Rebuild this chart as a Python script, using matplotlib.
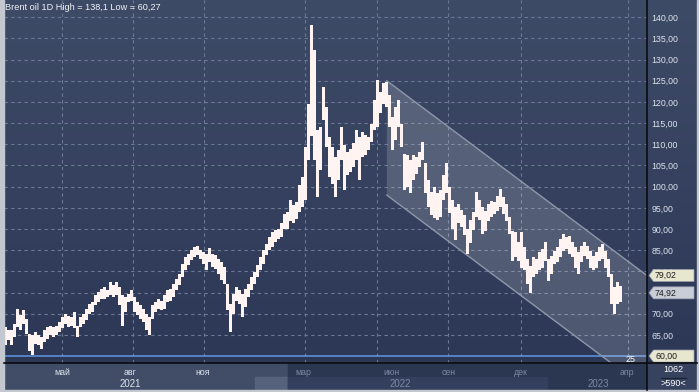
import numpy as np
import matplotlib
matplotlib.use('Agg')
from matplotlib import pyplot as plt
from matplotlib.colors import LinearSegmentedColormap
from matplotlib.patches import Polygon, Rectangle

plt.rcParams['font.family'] = ['Liberation Sans', 'DejaVu Sans']

# Brent daily range, one entry per ~2.5 trading days, mar 2021 .. mar 2023
high = [
    66.9, 66.1, 66.1, 67.6, 71.0, 69.6, 70.8, 68.8, 65.3, 64.9,
    65.7, 64.9, 64.5, 66.1, 66.9, 67.2, 66.9, 67.2, 68.0, 69.2,
    70.0, 69.4, 69.1, 70.4, 67.2, 69.1, 70.0, 71.2, 72.2, 72.8,
    74.3, 75.1, 75.9, 76.3, 75.5, 77.5, 76.7, 77.5, 76.3, 74.3,
    73.9, 74.7, 75.5, 73.9, 72.8, 72.0, 71.2, 70.0, 69.2, 72.0,
    72.8, 73.5, 73.1, 74.3, 75.5,
    75.9, 77.1, 78.3, 79.4, 81.8, 83.4, 84.2, 85.0, 85.7, 86.1,
    85.0, 84.6, 84.2, 85.4, 84.2, 83.8, 83.0, 82.2, 81.0, 77.1,
    72.4, 74.7, 76.3, 75.5, 74.7, 75.9, 77.1, 78.7, 79.8, 81.4,
    83.4, 85.0, 86.5, 88.1, 89.3, 89.7, 90.1, 91.3, 93.6, 94.0,
    96.8, 95.6, 96.4, 100.3, 102.3, 109.4, 119.6, 138.1, 132.2, 113.3,
    114.1, 123.5,
    118.9, 111.8, 109.4, 107.0, 108.6, 114.1, 109.8, 108.2, 109.0, 110.2,
    113.3, 111.8, 113.0, 112.2, 111.8, 114.9, 120.4, 125.2, 122.4, 124.4,
    124.8, 121.6, 116.5, 118.9, 120.4, 114.9, 107.8, 107.4, 106.3, 107.4,
    107.0, 108.2, 110.6, 105.5, 101.5, 98.8, 100.0, 98.4, 99.2, 102.7,
    105.5, 100.0, 96.8, 95.2, 96.0, 94.4, 93.3, 90.1, 92.1, 94.1,
    98.8, 96.8,
    95.1, 94.3, 95.9, 96.7, 96.3, 97.9, 99.4, 97.5, 95.9, 92.8,
    89.6, 89.2, 86.9, 89.2, 85.7, 82.9, 81.3, 83.3, 82.9, 84.5,
    85.3, 86.9, 82.9, 83.7, 84.9, 85.7, 87.6, 88.8, 88.0, 88.4,
    86.9, 85.7, 84.5, 86.1, 86.9, 86.1, 84.9, 83.7, 84.5, 85.7,
    86.5, 84.9, 82.9, 79.4, 76.2, 77.4, 76.6,
]
low = [
    62.5, 63.7, 62.5, 64.5, 66.9, 66.1, 67.6, 65.3, 61.3, 60.27,
    62.9, 62.5, 61.7, 63.3, 64.1, 64.9, 64.5, 64.9, 65.7, 66.5,
    67.6, 66.9, 67.2, 66.5, 64.5, 66.9, 67.6, 68.4, 70.0, 70.4,
    72.0, 72.8, 73.5, 73.5, 73.9, 74.3, 73.9, 74.3, 72.0, 67.2,
    70.4, 72.8, 73.1, 70.4, 69.6, 68.8, 68.0, 66.1, 64.9, 68.8,
    70.4, 71.2, 70.8, 71.2, 72.8,
    73.1, 73.9, 75.5, 76.7, 78.7, 80.2, 81.4, 82.6, 83.4, 83.8,
    83.0, 81.8, 80.2, 82.2, 81.0, 80.6, 79.4, 77.9, 77.1, 70.8,
    65.7, 70.0, 73.1, 72.4, 69.2, 71.6, 73.9, 75.5, 77.1, 78.7,
    80.2, 81.8, 83.8, 85.0, 85.7, 86.9, 87.7, 88.1, 90.1, 90.1,
    92.0, 91.3, 92.4, 94.0, 95.2, 96.8, 106.2, 112.0, 106.2, 97.6,
    103.9, 115.7,
    109.4, 102.3, 100.7, 97.6, 101.5, 106.3, 99.2, 102.7, 103.5, 104.7,
    106.3, 101.5, 107.0, 107.4, 108.6, 110.6, 113.3, 114.1, 117.3, 119.6,
    118.9, 114.1, 108.6, 111.0, 114.1, 109.4, 99.2, 100.0, 98.4, 101.5,
    103.1, 104.7, 106.3, 98.4, 95.2, 93.3, 92.5, 92.1, 92.9, 96.8,
    98.4, 93.7, 90.1, 87.4, 91.3, 90.5, 88.6, 84.2, 86.6, 89.7,
    92.9, 92.1,
    88.8, 89.6, 92.0, 92.8, 93.5, 94.3, 95.1, 93.5, 92.0, 88.8,
    82.5, 83.3, 82.5, 80.9, 80.2, 77.0, 75.0, 78.6, 79.4, 80.2,
    80.9, 82.5, 77.8, 79.4, 81.7, 82.1, 83.3, 84.9, 85.3, 84.1,
    83.3, 80.9, 79.4, 82.1, 83.7, 82.9, 80.9, 80.2, 80.9, 82.5,
    82.9, 80.9, 78.6, 72.3, 69.9, 72.3, 72.7,
]

month_labels = ['май', 'авг', 'ноя', 'мар', 'июн', 'сен', 'дек', 'апр']
month_label_pos = [18.8, 41.5, 65.8, 99.3, 128.7, 147.6, 171.8, 207.1]
month_grid_pos = [18.8, 42.5, 66.2, 99.8, 123.8, 147.5, 171.8, 207.5]
year_labels = ['2021', '2022', '2023']
year_pos = [41.5, 131.5, 197.5]
selected_end = 94.2  # end of the highlighted part of the time scroller

price_grid = list(range(65, 145, 5))
price_labels = [p for p in price_grid if p != 75]  # 75 sits under the last-price tag
channel_x = [127.1, 213.8]
channel_top = [125.0, 79.02]
channel_depth = 27.0
last_price = 74.92
low_level = 60.00
bars_count = 1062
bars_visible = 590
days_left = 25

light_txt = '#dde3ec'
dim_txt = '#7c89a4'


def fmt(v: float) -> str:
    return f'{v:.2f}'.replace('.', ',')


fig = plt.figure(figsize=(6.99, 3.92), dpi=100)

bg = fig.add_axes([0, 0, 1, 1])
bg.set_xlim(0, 699)
bg.set_ylim(0, 392)
bg.axis('off')
cmap = LinearSegmentedColormap.from_list('bg', ['#2b3654', '#3e4b67'])
bg.imshow(np.linspace(0, 1, 256)[:, None], cmap=cmap, aspect='auto',
          extent=(0, 699, 0, 392), origin='lower', zorder=0)
# time scroller band under the chart
bg.add_patch(Rectangle((4, 2), 284, 27, color='#414d67', zorder=1))
bg.add_patch(Rectangle((255, 2), 33, 13, color='#56627b', zorder=1))
bg.add_patch(Rectangle((288, 2), 359, 27, color='#2b3651', zorder=1))
bg.add_patch(Rectangle((288, 2), 259, 13, color='#333f5c', zorder=1))
bg.add_patch(Rectangle((647, 2), 50, 27, color='#36425e', zorder=1))

ax = fig.add_axes([4 / 699, 29 / 392, 643 / 699, 363 / 392])
ax.patch.set_alpha(0)
for s in ax.spines.values():
    s.set_visible(False)
ax.set_xlim(-0.5, 213.83)
ax.set_ylim(58.35, 144.08)

for p in price_grid:
    ax.axhline(p, color='#6b7995', lw=0.8, dashes=(3, 3), zorder=1)
for m in month_grid_pos:
    ax.axvline(m, color='#6b7995', lw=0.8, dashes=(3, 3), zorder=1)
ax.axhline(low_level, color='#5c8fd6', lw=1.2, zorder=2)

# descending channel
cx = np.array(channel_x)
ctop = np.array(channel_top)
cbot = ctop - channel_depth
ax.add_patch(Polygon(np.column_stack([np.r_[cx, cx[::-1]], np.r_[ctop, cbot[::-1]]]),
                     closed=True, facecolor='white', alpha=0.16, lw=0, zorder=2))
ax.plot(cx, ctop, color='#8e97aa', lw=1, zorder=3)
ax.plot(cx, cbot, color='#8e97aa', lw=1, zorder=3)

hi = np.array(high)
lo = np.array(low)
idx = np.arange(len(hi))
ax.bar(idx, hi - lo, bottom=lo, width=0.75, color='#fff4f1', lw=0, zorder=4)

ax.set_xticks([])
ax.yaxis.tick_right()
ax.set_yticks(price_labels)
ax.set_yticklabels([fmt(p) for p in price_labels])
ax.tick_params(axis='y', length=0, pad=3.2, labelsize=6.3, labelcolor=light_txt)

xt = ax.get_xaxis_transform()
for lab, pos in zip(month_labels, month_label_pos):
    ax.text(pos, -0.026, lab, transform=xt, ha='center', va='center', fontsize=6.3,
            color=light_txt if pos < selected_end else dim_txt, clip_on=False)
for lab, pos in zip(year_labels, year_pos):
    ax.text(pos, -0.057, lab, transform=xt, ha='center', va='center', fontsize=7,
            color=light_txt if pos < selected_end else dim_txt, clip_on=False)

ax.text(208.2, 59.2, str(days_left), ha='center', va='center', fontsize=6.5,
        color='white', zorder=5)

title = f'Brent oil 1D High = {max(high):.1f} Low = {min(low):.2f}'.replace('.', ',')
ax.text(1 / 643, 1 - 8 / 363, title, transform=ax.transAxes, ha='left', va='center',
        fontsize=6.6, color='#f0f3f7', zorder=6)

ov = fig.add_axes([0, 0, 1, 1], zorder=3)
ov.set_xlim(0, 699)
ov.set_ylim(0, 392)
ov.axis('off')
ov.patch.set_alpha(0)

for value, face in [(channel_top[1], '#e7e7d0'), (last_price, '#c9cdd8'), (low_level, '#e7e7d0')]:
    py = ax.transData.transform((0, value))[1]
    ov.add_patch(Polygon([(649, py), (653.5, py + 6), (694, py + 6), (694, py - 6), (653.5, py - 6)],
                         closed=True, facecolor=face, edgecolor='#9aa0ac', lw=0.5))
    ov.text(655, py, fmt(value), ha='left', va='center', fontsize=6.3, color='#1b1b1b')

ov.text(673, 392 - 370, str(bars_count), ha='center', va='center', fontsize=6.5, color='white')
ov.plot([661, 686], [392 - 377.5] * 2, color='#1d2536', lw=1)
ov.text(673, 392 - 383.5, f'>{bars_visible}<', ha='center', va='center', fontsize=6.5, color='white')

ov.plot([647, 647], [2, 392], color='#0a0c10', lw=1.2)
ov.plot([4, 697], [29, 29], color='#0a0c10', lw=1.2)
ov.add_patch(Rectangle((0, 0), 3.5, 392, color='#c3c7cf'))
ov.add_patch(Rectangle((0, 0), 699, 2.5, color='#c3c7cf'))
ov.add_patch(Rectangle((696.5, 0), 2.5, 392, color='#c3c7cf'))

fig.savefig('out.png', dpi=100)
